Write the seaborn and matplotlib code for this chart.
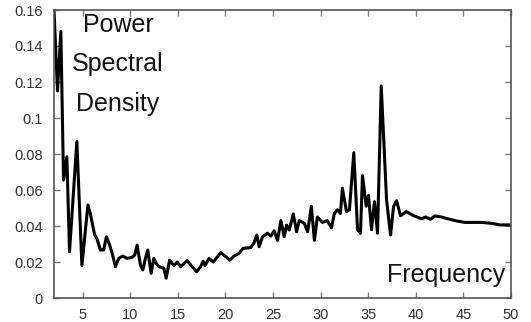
import matplotlib
matplotlib.use("Agg")
import matplotlib.pyplot as plt
import seaborn as sns
import pandas as pd

freq = [2.0, 2.37, 2.72, 3.0, 3.35, 3.63, 4.40, 4.93, 5.56, 5.81, 6.27, 6.51, 6.87, 7.22,
        7.5, 7.85, 8.2, 8.45, 8.8, 9.22, 9.67, 10.2, 10.48, 10.73, 11.08, 11.33, 11.6,
        11.85, 12.2, 12.48, 12.77, 13.02, 13.54, 13.78, 14.14, 14.59, 14.94, 15.3,
        15.99, 16.52, 16.98, 17.4, 17.65, 17.86, 18.28, 18.73, 19.51, 20.04, 20.46,
        20.91, 21.44, 21.86, 22.67, 23.02, 23.3, 23.55, 23.9, 24.42, 24.78, 25.13,
        25.48, 25.83, 26.18, 26.42, 26.71, 27.13, 27.48, 27.76, 28.29, 28.64,
        29.03, 29.35, 29.66, 30.19, 30.71,
        31.14, 31.45, 31.77, 32.08, 32.29, 32.72, 33.03, 33.49, 33.88, 34.19, 34.4,
        34.79, 35.03, 35.35, 35.66, 35.98, 36.37, 36.93, 37.35, 37.67, 37.98, 38.4,
        39.0, 39.67, 40.59, 41.04, 41.54, 41.99, 42.7, 43.36, 44.28, 45.15, 45.99,
        46.91, 47.96, 48.84, 49.9, 50.0]
psd = [0.160, 0.115, 0.148, 0.0655, 0.0785, 0.0257, 0.087, 0.018, 0.0517, 0.047, 0.035,
       0.033, 0.0267, 0.0267, 0.034, 0.0294, 0.023, 0.0174, 0.022, 0.0233, 0.022, 0.0226,
       0.0239, 0.0294, 0.0183, 0.0156, 0.022, 0.0267, 0.0137, 0.022, 0.019, 0.0174,
       0.0165, 0.011, 0.021, 0.018, 0.020, 0.0174,
       0.0207, 0.0174, 0.0146, 0.0174, 0.0205, 0.018, 0.022, 0.020, 0.0252, 0.023, 0.021,
       0.0233, 0.0248, 0.0276, 0.028, 0.0307, 0.035, 0.0285, 0.034, 0.036, 0.0344, 0.0374,
       0.032, 0.043, 0.034, 0.0405, 0.0378, 0.0467, 0.0368, 0.043, 0.0415, 0.0368,
       0.051, 0.032, 0.045, 0.042, 0.043, 0.039, 0.047, 0.049, 0.047, 0.061,
       0.048, 0.049, 0.0807, 0.038, 0.036, 0.068, 0.051, 0.057, 0.038, 0.0535, 0.036,
       0.1178, 0.0544, 0.035, 0.051, 0.054, 0.0457, 0.048, 0.046, 0.044, 0.045, 0.0437,
       0.0456, 0.045, 0.044, 0.0428, 0.042, 0.042, 0.042, 0.0415, 0.0406, 0.0406, 0.0405]

xticks = [5, 10, 15, 20, 25, 30, 35, 40, 45, 50]
yticks = [0, 0.02, 0.04, 0.06, 0.08, 0.1, 0.12, 0.14, 0.16]
ytick_labels = ["0", "0.02", "0.04", "0.06", "0.08", "0.1", "0.12", "0.14", "0.16"]

df = pd.DataFrame({"Frequency": freq, "PSD": psd})

sns.set_style("ticks")
plt.rcParams["font.family"] = ["Liberation Sans", "DejaVu Sans"]

fig = plt.figure(figsize=(5.31, 3.22), dpi=100)
ax = fig.add_axes([54 / 531, 1 - 298 / 322, 457 / 531, 288 / 322])

sns.lineplot(data=df, x="Frequency", y="PSD", ax=ax, color="black", linewidth=2.2,
             estimator=None, sort=False)

ax.set_xlim(2, 50)
ax.set_ylim(0, 0.16)
ax.set_xticks(xticks)
ax.set_xticklabels([str(t) for t in xticks])
ax.set_yticks(yticks)
ax.set_yticklabels(ytick_labels)
ax.set_xlabel("")
ax.set_ylabel("")

for s in ax.spines.values():
    s.set_visible(True)
    s.set_color("#555555")
    s.set_linewidth(1.2)

ax.tick_params(direction="in", length=4, width=1, colors="#777777",
               top=True, right=True, labelsize=10.5, labelcolor="#333333")
ax.tick_params(axis="y", pad=8)
ax.tick_params(axis="x", pad=7)

tkw = dict(transform=ax.transAxes, fontsize=18, color="#111111")
ax.text(0.14, 0.948, "Power", ha="center", va="center", **tkw)
ax.text(0.14, 0.814, "Spectral", ha="center", va="center", **tkw)
ax.text(0.14, 0.672, "Density", ha="center", va="center", **tkw)
ax.text(0.987, 0.08, "Frequency", ha="right", va="center", **tkw)

fig.savefig("out.png", dpi=100)
